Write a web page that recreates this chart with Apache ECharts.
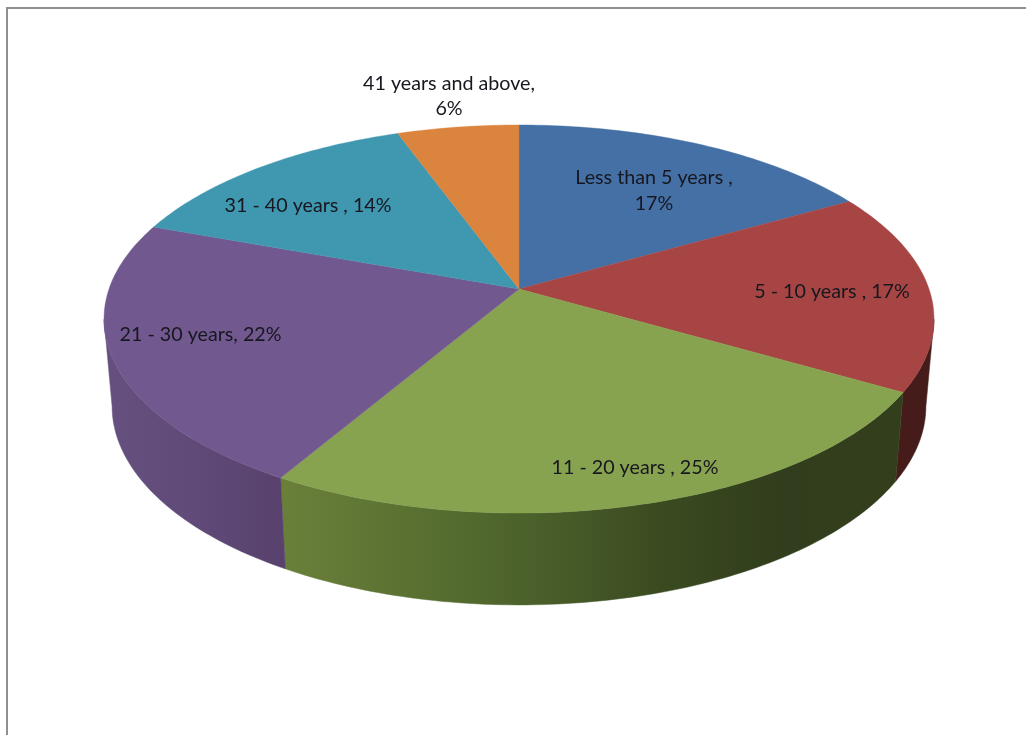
<!DOCTYPE html>
<html>
<head>
<meta charset="utf-8">
<style>html,body{margin:0;padding:0;background:#fff}#c{width:1026px;height:735px}</style>
<script src="https://cdn.jsdelivr.net/npm/echarts@6/dist/echarts.min.js"></script>
</head>
<body>
<div id="c"></div>
<script>
// Data
const categories = ['Less than 5 years', '5 - 10 years', '11 - 20 years', '21 - 30 years', '31 - 40 years', '41 years and above'];
const shares = [16.7, 16.7, 25.0, 22.2, 13.9, 5.5];
const labelTexts = ['Less than 5 years ,\n17%', '5 - 10 years , 17%', '11 - 20 years , 25%', '21 - 30 years, 22%', '31 - 40 years , 14%', '41 years and above,\n6%'];

// Styles
const topColors = ['#4470a5', '#a64543', '#87a34f', '#71588f', '#4097b0', '#db843d'];
const wallStops = [
  [[0, '#2a4466'], [1, '#2a4466']],
  [[0, '#451c1a'], [1, '#451c1a']],
  [[0, '#6a8039'], [0.3, '#536a2f'], [0.62, '#3a4a20'], [0.8, '#313d1c'], [1, '#333f1c']],
  [[0, '#65507f'], [0.5, '#5f4a78'], [1, '#58416c']],
  [[0, '#2a6273'], [1, '#2a6273']],
  [[0, '#8f5628'], [1, '#8f5628']]
];
// Label anchors on the pie plane (unit-circle coordinates)
const labelAnchors = [[0.3584, 0.5719], [0.7622, -0.0106], [0.2470, -0.8205], [-0.7492, -0.2292], [-0.5525, 0.4762], [-0.2029, 1.2172]];

// Perspective projection of the disc
const K = 0.1547;
const topFace = { cx: 519, cy: 289, rx: 410, ry: 189.4 };
const bottomFace = { cx: 519, cy: 375.4, rx: 402, ry: 194 };
const WALL_FROM = 99, WALL_TO = 261;

function project(face, X, Y) {
  const w = 1 + K * Y;
  return [face.cx + face.rx * X / w, face.cy - face.ry * Y / w];
}
function onRim(face, deg) {
  const a = deg * Math.PI / 180;
  return project(face, Math.sin(a), Math.cos(a));
}
const total = shares.reduce((a, b) => a + b, 0);
const angleOf = v => v / total * 360;
function startAngle(i) {
  let s = 0;
  for (let j = 0; j < i; j++) s += angleOf(shares[j]);
  return s;
}
function arc(face, from, to) {
  const pts = [];
  const n = Math.max(1, Math.ceil(Math.abs(to - from)));
  for (let i = 0; i <= n; i++) pts.push(onRim(face, from + (to - from) * i / n));
  return pts;
}

const seriesData = categories.map((name, i) => ({ name, value: [shares[i]] }));

function renderWall(params, api) {
  const i = params.dataIndex;
  const a0 = startAngle(i);
  const a1 = a0 + angleOf(api.value(0));
  const from = Math.max(a0, WALL_FROM), to = Math.min(a1, WALL_TO);
  if (to <= from) return { type: 'group', children: [] };
  const upper = arc(topFace, from, to);
  const lower = arc(bottomFace, from, to).reverse();
  const pts = upper.concat(lower);
  const xs = pts.map(p => p[0]);
  const x0 = Math.min(...xs), x1 = Math.max(...xs);
  const grad = new echarts.graphic.LinearGradient(x0, 0, x1, 0,
    wallStops[i].map(s => ({ offset: s[0], color: s[1] })), true);
  return { type: 'polygon', shape: { points: pts }, style: { fill: grad, stroke: grad, lineWidth: 0.5 } };
}
function renderTop(params, api) {
  const i = params.dataIndex;
  const a0 = startAngle(i);
  const a1 = a0 + angleOf(api.value(0));
  const pts = [project(topFace, 0, 0)].concat(arc(topFace, a0, a1));
  return { type: 'polygon', shape: { points: pts },
    style: { fill: topColors[i], stroke: topColors[i], lineWidth: 0.4 } };
}
function renderLabel(params) {
  const i = params.dataIndex;
  const p = project(topFace, labelAnchors[i][0], labelAnchors[i][1]);
  return { type: 'text', x: p[0], y: p[1] + 1, silent: true,
    style: { text: labelTexts[i], fill: '#17171f', align: 'center', verticalAlign: 'middle',
      font: '19.7px Lato', lineHeight: 25.5 } };
}

const chart = echarts.init(document.getElementById('c'), null, { renderer: 'canvas' });
chart.setOption({
  animation: false,
  backgroundColor: '#ffffff',
  graphic: [{ type: 'polyline', shape: { points: [[7, 735], [7, 8], [1026, 8]] },
    style: { fill: null, stroke: '#8f8f8f', lineWidth: 2 }, silent: true }],
  series: [
    { type: 'custom', coordinateSystem: 'none', renderItem: renderWall, data: seriesData, z: 1, silent: true },
    { type: 'custom', coordinateSystem: 'none', renderItem: renderTop, data: seriesData, z: 2, silent: true },
    { type: 'custom', coordinateSystem: 'none', renderItem: renderLabel, data: seriesData, z: 3, silent: true }
  ]
});
</script>
</body>
</html>
